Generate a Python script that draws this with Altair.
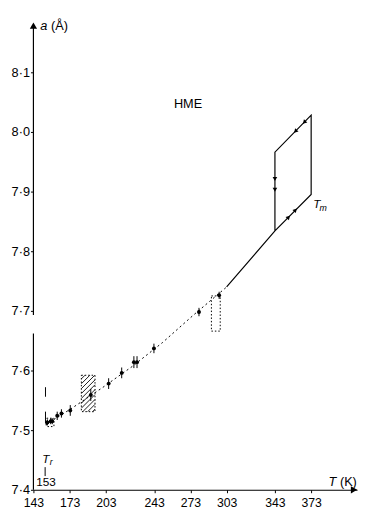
import altair as alt
import pandas as pd
import numpy as np

# ---------------- data ----------------
# measured points (T in K, lattice parameter a in Å) with error half-widths
pt_T = [154.6, 157.3, 158.6, 162.7, 166.2, 173.5, 190.5, 205.3, 216.1, 226.2, 228.8, 242.8, 280.1, 296.8]
pt_a = [7.513, 7.515, 7.515, 7.524, 7.528, 7.533, 7.559, 7.578, 7.596, 7.614, 7.614, 7.637, 7.698, 7.726]
pt_err = [0.005, 0.005, 0.005, 0.007, 0.007, 0.009, 0.010, 0.009, 0.009, 0.010, 0.010, 0.008, 0.007, 0.006]

# dotted guide curve (low temperature phase)
curve_T = [153, 175, 200, 225, 250, 275, 303]
curve_a = [7.509, 7.537, 7.571, 7.607, 7.647, 7.692, 7.740]

# solid line + hysteresis loop (path order)
loop_T = [303, 343, 373, 373, 343, 343]
loop_a = [7.740, 7.834, 7.895, 8.028, 7.966, 7.834]

# direction arrowheads on the loop
arr_T = [354.3, 360.0, 360.0, 367.3, 343.0, 343.0]
arr_a = [7.857, 7.869, 8.001, 8.016, 7.921, 7.903]
arr_ang = [43, 43, 223, 223, 180, 180]

# dotted boxes (T0, T1, a0, a1)
box_T0 = [182.7, 290.4, 154.0]
box_T1 = [194.0, 297.7, 160.0]
box_a0 = [7.531, 7.666, 7.506]
box_a1 = [7.592, 7.725, 7.520]

# dashed marker at T_r
tr_T = [153, 153]
tr_lo = [7.556, 7.511]
tr_hi = [7.572, 7.531]

x_ticks = [143, 173, 203, 243, 273, 303, 343, 373]
y_ticks = [7.4, 7.5, 7.6, 7.7, 7.8, 7.9, 8.0, 8.1]

# ---------------- scales ----------------
X_DOM = [143, 411]
Y_DOM = [7.4, 8.19]
W, H = 331, 482
FONT = "Liberation Sans"

xs = alt.Scale(domain=X_DOM, nice=False, zero=False)
ys = alt.Scale(domain=Y_DOM, nice=False, zero=False)

xaxis = alt.Axis(values=x_ticks, title=None, grid=False, domain=True, domainColor="black",
                 domainWidth=1.2, tickColor="black", tickSize=3, labelPadding=4,
                 labelFontSize=12.5, labelColor="black", labelFont=FONT, labelFlush=False,
                 labelOverlap=False, format="d")
yaxis = alt.Axis(values=y_ticks, title=None, grid=False, domain=False, tickColor="black",
                 tickSize=3, labelPadding=1, labelFontSize=13, labelColor="black",
                 labelFont=FONT, labelOverlap=False, labelFlush=False,
                 labelExpr="replace(format(datum.value, '.1f'), '.', '·')")


def X(f):
    return alt.X(f, type="quantitative", scale=xs, axis=xaxis)


def Y(f):
    return alt.Y(f, type="quantitative", scale=ys, axis=yaxis)


pts = pd.DataFrame({"T": pt_T, "a": pt_a, "lo": np.array(pt_a) - np.array(pt_err),
                    "hi": np.array(pt_a) + np.array(pt_err)})
curve = pd.DataFrame({"T": curve_T, "a": curve_a})
loop = pd.DataFrame({"T": loop_T, "a": loop_a, "o": range(len(loop_T))})
arrows = pd.DataFrame({"T": arr_T, "a": arr_a, "ang": arr_ang})
boxes = pd.DataFrame({"T0": box_T0, "T1": box_T1, "a0": box_a0, "a1": box_a1})
trdf = pd.DataFrame({"T": tr_T, "lo": tr_lo, "hi": tr_hi})

# hatch lines inside the first box (45° in pixel space)
k = (W / (X_DOM[1] - X_DOM[0])) / (H / (Y_DOM[1] - Y_DOM[0]))
T0, T1, a0, a1 = box_T0[0], box_T1[0], box_a0[0], box_a1[0]
hatch = []
step = 5.0 / (H / (Y_DOM[1] - Y_DOM[0]))
c = a0 - k * T1 + step / 2
while c < a1 - k * T0:
    ta = max(T0, (a0 - c) / k)
    tb = min(T1, (a1 - c) / k)
    if tb > ta:
        hatch.append({"T": ta, "T2": tb, "a": c + k * ta, "a2": c + k * tb})
    c += step
hatch = pd.DataFrame(hatch)

# axis lines (y axis drawn with a break)
yax = pd.DataFrame({"T": [143, 143], "lo": [7.4, 7.693], "hi": [7.662, 8.18]})
axarrow = pd.DataFrame({"T": [143, 408.5], "a": [8.178, 7.4], "ang": [0, 90]})

l_curve = alt.Chart(curve).mark_line(color="black", strokeWidth=1, strokeDash=[2, 3]).encode(
    x=X("T"), y=Y("a"))
l_loop = alt.Chart(loop).mark_line(color="black", strokeWidth=1.2).encode(
    x=X("T"), y=Y("a"), order="o:Q")
l_err = alt.Chart(pts).mark_rule(color="black", strokeWidth=1).encode(
    x=X("T"), y=Y("lo"), y2="hi")
l_pts = alt.Chart(pts).mark_circle(color="black", size=16, opacity=1).encode(
    x=X("T"), y=Y("a"))
l_arr = alt.Chart(arrows).mark_point(shape="triangle-up", filled=True, color="black",
                                     size=22, opacity=1).encode(
    x=X("T"), y=Y("a"), angle=alt.Angle("ang:Q", scale=None))
l_box = alt.Chart(boxes).mark_rect(fill="transparent", stroke="black", strokeWidth=1,
                                   strokeDash=[1.5, 2]).encode(
    x=X("T0"), x2="T1", y=Y("a0"), y2="a1")
l_hatch = alt.Chart(hatch).mark_rule(color="black", strokeWidth=0.9).encode(
    x=X("T"), x2="T2", y=Y("a"), y2="a2")
l_tr = alt.Chart(trdf).mark_rule(color="black", strokeWidth=1).encode(
    x=X("T"), y=Y("lo"), y2="hi")
l_yax = alt.Chart(yax).mark_rule(color="black", strokeWidth=1.2).encode(
    x=X("T"), y=Y("lo"), y2="hi")
l_axarr = alt.Chart(axarrow).mark_point(shape="triangle-up", filled=True, color="black",
                                        size=55, opacity=1).encode(
    x=X("T"), y=Y("a"), angle=alt.Angle("ang:Q", scale=None))

# text annotations
txt = pd.DataFrame([
    {"T": 271.0, "a": 8.047, "t": "HME", "s": 13, "st": "normal", "al": "center"},
    {"T": 151.5, "a": 8.177, "t": "a", "s": 13, "st": "italic", "al": "center"},
    {"T": 157.5, "a": 8.177, "t": "(Å)", "s": 13, "st": "normal", "al": "left"},
    {"T": 390.5, "a": 7.413, "t": "T", "s": 13, "st": "italic", "al": "center"},
    {"T": 396.8, "a": 7.413, "t": "(K)", "s": 13, "st": "normal", "al": "left"},
    {"T": 153.3, "a": 7.452, "t": "T", "s": 12, "st": "italic", "al": "center"},
    {"T": 156.6, "a": 7.446, "t": "r", "s": 9, "st": "italic", "al": "left"},
    {"T": 153.5, "a": 7.413, "t": "153", "s": 12, "st": "normal", "al": "center"},
    {"T": 374.8, "a": 7.879, "t": "T", "s": 12, "st": "italic", "al": "left"},
    {"T": 380.0, "a": 7.872, "t": "m", "s": 9, "st": "italic", "al": "left"},
])
text_layers = []
for _, r in txt.iterrows():
    text_layers.append(
        alt.Chart(pd.DataFrame([r])).mark_text(font=FONT, fontSize=float(r["s"]), fontStyle=r["st"],
                                               align=r["al"], baseline="middle", color="black").encode(
            x=X("T"), y=Y("a"), text="t:N"))

trtick = pd.DataFrame({"T": [152.7], "lo": [7.423], "hi": [7.438]})
l_trtick = alt.Chart(trtick).mark_rule(color="black", strokeWidth=1).encode(
    x=X("T"), y=Y("lo"), y2="hi")

chart = alt.layer(
    l_hatch, l_box, l_curve, l_loop, l_err, l_pts, l_arr, l_tr, l_yax, l_axarr, l_trtick,
    *text_layers
).properties(
    width=W, height=H,
    autosize=alt.AutoSizeParams(type="none"),
    padding={"left": 26, "top": 5, "right": 2, "bottom": 20},
    background="white",
).configure_view(strokeWidth=0)

chart.save("out.html", embed_options={"renderer": "svg", "actions": False})
